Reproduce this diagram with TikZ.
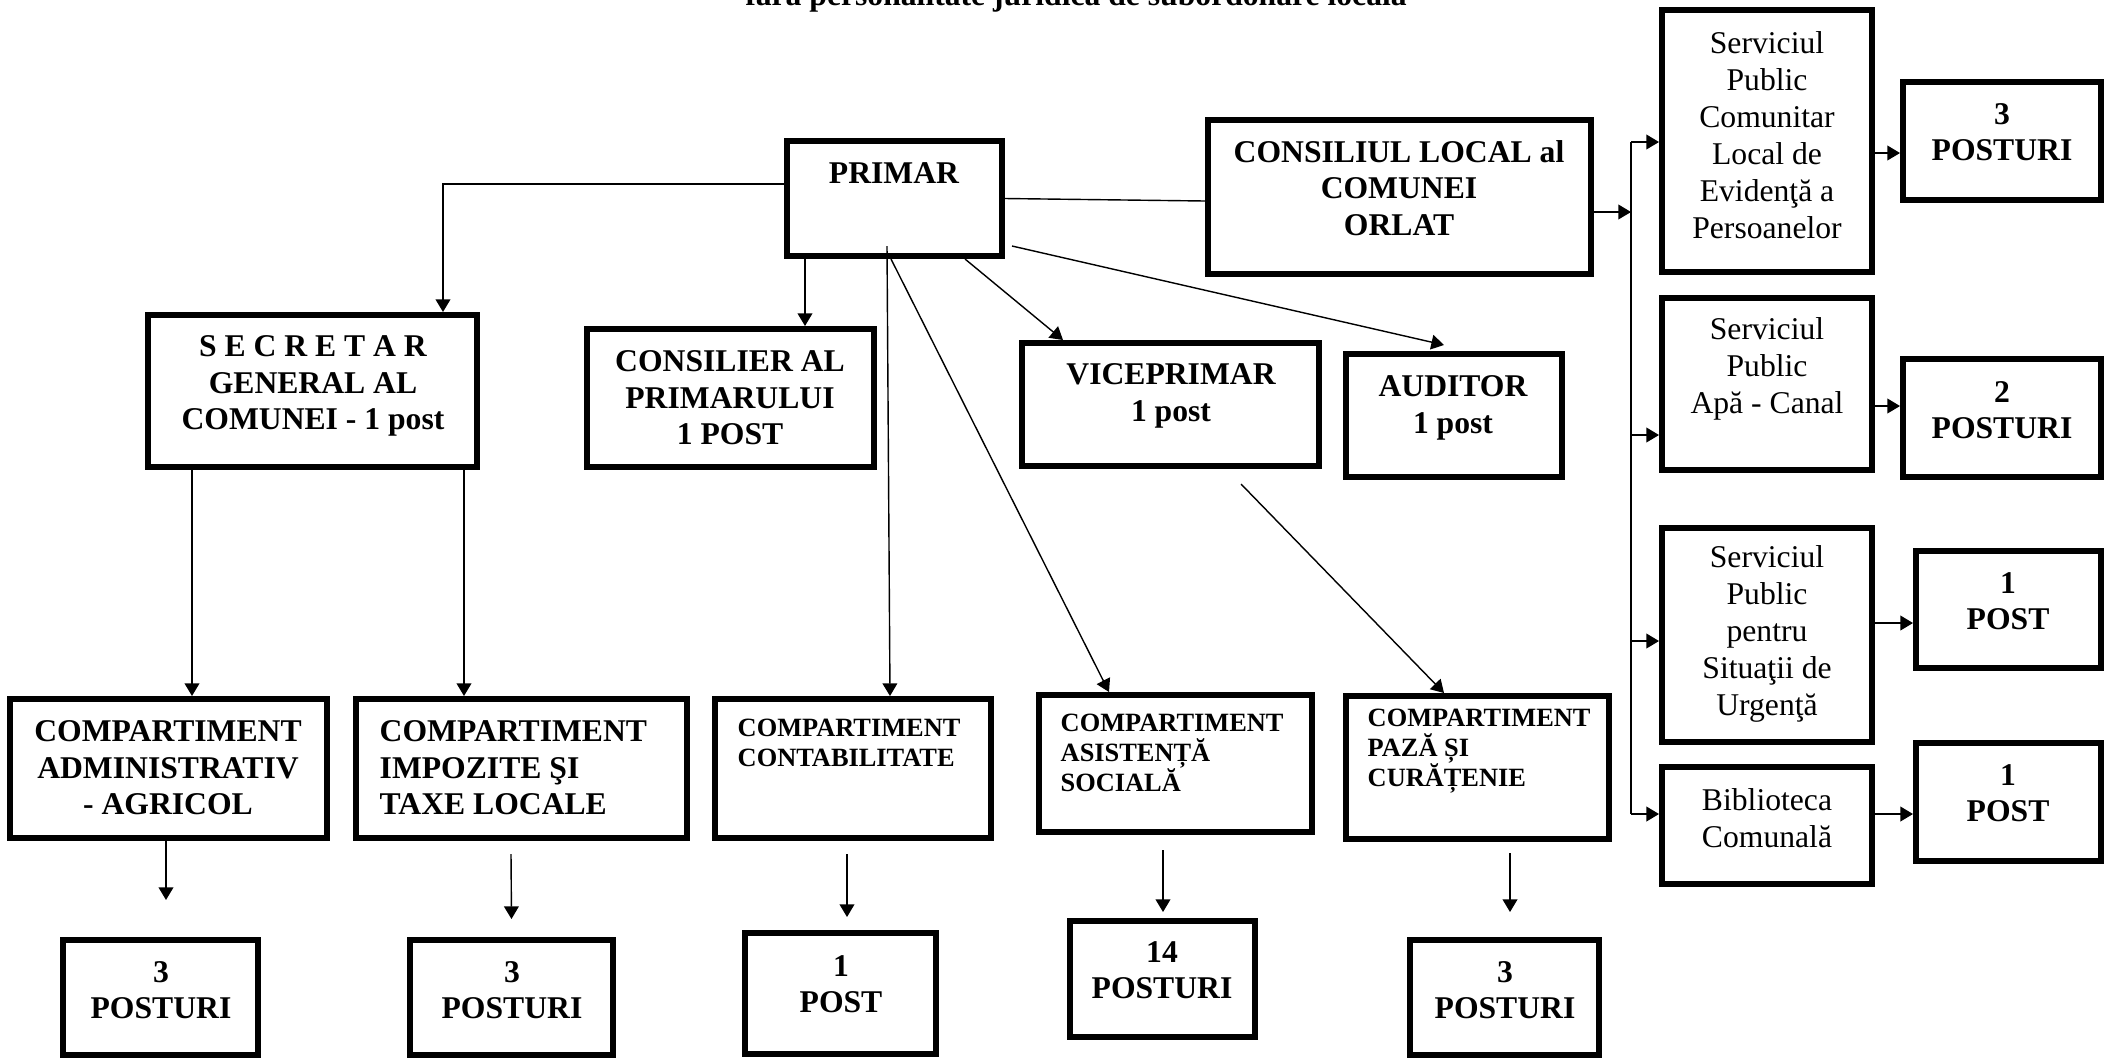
\documentclass[tikz,border=0pt]{standalone}
\usepackage{fontspec}
\setmainfont{Liberation Serif}
\usetikzlibrary{arrows.meta,positioning,calc,fit}
\tikzset{font=\fontsize{9}{10.4}\selectfont\bfseries}
\tikzset{box/.style={draw, line width=1.7pt, inner sep=-0.85pt}}
\tikzset{lbl/.style={inner sep=0pt, align=center}}
\tikzset{slbl/.style={inner sep=0pt, align=left, anchor=west, font=\fontsize{7.5}{8.6}\selectfont\bfseries}}
\tikzset{srv/.style={inner sep=0pt, align=center, font=\fontsize{9}{10.5}\selectfont}}
\tikzset{arr/.style={thin, -{Triangle[length=3.6pt,width=4.2pt]}}}

\begin{document}
\begin{tikzpicture}[x=0.01cm,y=-0.01cm]
  \useasboundingbox (0,0) rectangle (2109,1060);
  \node[lbl, anchor=base] (titlu) at (1076,5) {fără personalitate juridică de subordonare locală};

  % casete
  \node[box, fit={(784,138) (1005,259)}] (primar) {};
  \node[box, fit={(145,312) (480,470)}] (secretar) {};
  \node[box, fit={(584,326) (877,470)}] (consilier) {};
  \node[box, fit={(1019,340) (1322,469)}] (viceprimar) {};
  \node[box, fit={(1343,351) (1565,480)}] (auditor) {};
  \node[box, fit={(1205,117) (1594,277)}] (consiliu) {};
  \node[box, fit={(1659,7) (1875,275)}] (evidenta) {};
  \node[box, fit={(1900,79) (2104,203)}] (nrevidenta) {};
  \node[box, fit={(1659,295) (1875,473)}] (apa) {};
  \node[box, fit={(1900,356) (2104,480)}] (nrapa) {};
  \node[box, fit={(1659,525) (1875,745)}] (urgenta) {};
  \node[box, fit={(1913,548) (2104,671)}] (nrurgenta) {};
  \node[box, fit={(1659,764) (1875,887)}] (biblioteca) {};
  \node[box, fit={(1913,740) (2104,864)}] (nrbiblioteca) {};
  \node[box, fit={(7,696) (330,841)}] (agricol) {};
  \node[box, fit={(353,696) (690,841)}] (taxe) {};
  \node[box, fit={(712,696) (994,841)}] (contab) {};
  \node[box, fit={(1036,692) (1315,835)}] (social) {};
  \node[box, fit={(1343,693) (1612,842)}] (paza) {};
  \node[box, fit={(60,937) (261,1058)}] (nragricol) {};
  \node[box, fit={(407,937) (616,1058)}] (nrtaxe) {};
  \node[box, fit={(742,930) (939,1057)}] (nrcontab) {};
  \node[box, fit={(1067,918) (1258,1040)}] (nrsocial) {};
  \node[box, fit={(1407,937) (1602,1058)}] (nrpaza) {};

  % texte
  \node[lbl] (tprimar) at (894,173) {PRIMAR};
  \node[lbl] (tsecretar) at (313,386) {S E C R E T A R\\GENERAL AL\\COMUNEI - 1 post};
  \node[lbl] (tconsilier) at (730,398) {CONSILIER AL\\PRIMARULUI\\1 POST};
  \node[lbl] (tviceprimar) at (1171,396) {VICEPRIMAR\\1 post};
  \node[lbl] (tauditor) at (1453,408) {AUDITOR\\1 post};
  \node[lbl] (tconsiliu) at (1399,188) {CONSILIUL LOCAL al\\COMUNEI\\ORLAT};
  \node[srv] (tevidenta) at (1767,135) {Serviciul\\Public\\Comunitar\\Local de\\Evidenţă a\\Persoanelor};
  \node[lbl] (tnrevidenta) at (2002,132) {3\\POSTURI};
  \node[srv] (tapa) at (1767,369) {Serviciul\\Public\\Apă - Canal};
  \node[lbl] (tnrapa) at (2002,410) {2\\POSTURI};
  \node[srv] (turgenta) at (1767,634) {Serviciul\\Public\\pentru\\Situaţii de\\Urgenţă};
  \node[lbl] (tnrurgenta) at (2008,601) {1\\POST};
  \node[srv] (tbiblioteca) at (1767,818) {Biblioteca\\Comunală};
  \node[lbl] (tnrbiblioteca) at (2008,793) {1\\POST};
  \node[lbl] (tagricol) at (168,768) {COMPARTIMENT\\ADMINISTRATIV\\- AGRICOL};
  \node[lbl, align=left, anchor=west] (ttaxe) at (379,768) {COMPARTIMENT\\IMPOZITE ŞI\\TAXE LOCALE};
  \node[slbl] (tcontab) at (737,743) {COMPARTIMENT\\CONTABILITATE};
  \node[slbl] (tsocial) at (1060,753) {COMPARTIMENT\\ASISTENȚĂ\\SOCIALĂ};
  \node[slbl] (tpaza) at (1367,751) {COMPARTIMENT\\PAZĂ ȘI\\CURĂȚENIE};
  \node[lbl] (tnragricol) at (161,990) {3\\POSTURI};
  \node[lbl] (tnrtaxe) at (512,990) {3\\POSTURI};
  \node[lbl] (tnrcontab) at (841,984) {1\\POST};
  \node[lbl] (tnrsocial) at (1162,970) {14\\POSTURI};
  \node[lbl] (tnrpaza) at (1505,990) {3\\POSTURI};

  % legaturi primar
  \draw[arr] (primar.west |- 0,184) -| (secretar.north -| 443,0);
  \draw[arr] (primar.south -| 805,0) -- (consilier.north -| 805,0);
  \draw[arr] ($(primar.south)+(-7.5,-13)$) -- (contab.north -| 890,0);
  \draw[arr] (primar.south -| 891,0) -- (social.north -| 1109,0);
  \draw[arr] (primar.south -| 965,0) -- (viceprimar.north -| 1063,0);
  \draw[arr] ($(primar.east)+(7,47.5)$) -- ($(auditor.north)+(-10,-6)$);
  \draw[thin] (primar.east) -- (consiliu.west |- 0,201);
  \draw[arr] ($(viceprimar.south)+(70.5,15)$) -- (paza.north -| 1444,0);
  \draw[arr] (secretar.south -| 192,0) -- (agricol.north -| 192,0);
  \draw[arr] (secretar.south -| 464,0) -- (taxe.north -| 464,0);

  % posturi
  \draw[arr] (agricol.south -| 166,0) -- ($(nragricol.north)+(5.5,-37)$);
  \draw[arr] ($(taxe.south)+(-10.5,13)$) -- ($(nrtaxe.north)+(0,-18)$);
  \draw[arr] ($(contab.south)+(-6,13)$) -- ($(nrcontab.north)+(6.5,-13)$);
  \draw[arr] ($(social.south)+(-12.5,15)$) -- ($(nrsocial.north)+(0.5,-6)$);
  \draw[arr] ($(paza.south)+(32.5,11)$) -- ($(nrpaza.north)+(5.5,-25)$);

  % servicii publice
  \coordinate (bussus) at (1631,142);
  \coordinate (busjos) at (1631,814);
  \draw[arr] (consiliu.east |- 0,212) -- (bussus |- 0,212);
  \draw[thin] (bussus) -- (busjos);
  \draw[arr] (bussus) -- (evidenta.west |- bussus);
  \draw[arr] (busjos) -- (biblioteca.west |- busjos);
  \foreach \n/\y in {apa/435, urgenta/641}
    \draw[arr] (bussus |- 0,\y) -- (\n.west |- 0,\y);
  \foreach \n/\y in {evidenta/153, apa/406, urgenta/623, biblioteca/814}
    \draw[arr] (\n.east |- 0,\y) -- (nr\n.west |- 0,\y);
\end{tikzpicture}
\end{document}
